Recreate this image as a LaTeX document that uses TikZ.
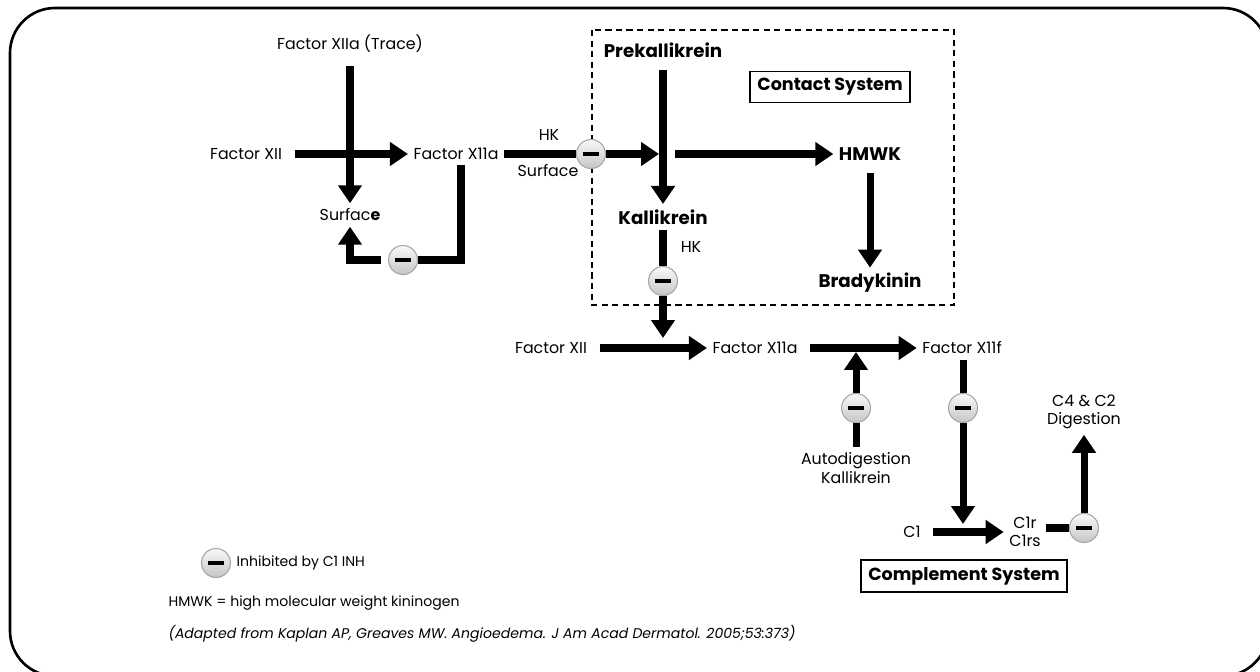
\documentclass[tikz,border=0pt]{standalone}
\usepackage{fontspec}
\setmainfont{Poppins}
\usetikzlibrary{shapes}
\usetikzlibrary{arrows.meta}
\usetikzlibrary{positioning}

\begin{document}
\begin{tikzpicture}[x=0.02cm,y=-0.02cm]
\tikzset{lbl/.style={font=\fontsize{9}{10.5}\selectfont,inner sep=3pt,align=center},
bold/.style={font=\fontsize{10.4}{12}\selectfont\bfseries,inner sep=3pt},
arr/.style={line width=4pt,-{Triangle[length=0.36cm,width=0.46cm]},shorten <=4pt},
bar/.style={line width=4pt},
inh/.style={circle,draw=gray!70,line width=0.6pt,minimum size=0.58cm,inner sep=0pt,top color=gray!5,bottom color=gray!45,
  path picture={\fill ([xshift=-0.16cm,yshift=-0.045cm]path picture bounding box.center) rectangle ++(0.32cm,0.09cm);}},
sysbox/.style={draw,line width=1pt,font=\fontsize{10}{12}\selectfont\bfseries,inner sep=4pt}}
\useasboundingbox (0,0) rectangle (1260,672);
\draw[line width=1.5pt,rounded corners=0.9cm] (10,8) rectangle (1268,676);
% contact system
\draw[dashed,line width=0.8pt,dash pattern=on 3.5pt off 2.5pt] (592,30) rectangle (954,305);
\node[lbl](trace) at (350,44){Factor XIIa (Trace)};
\node[lbl](fxii) at (246,154){Factor XII};
\node[lbl](fxia) at (456,154){Factor X11a};
\node[lbl](surf) at (350,215){Surfac\textbf{e}};
\node[lbl](hk) at (549,135){HK};
\node[lbl](surfhk) at (548,171){Surface};
\node[inh](inha) at (591,154){};
\node[inh](inhb) at (403,260){};
\node[bold](prek) at (663,50){Prekallikrein};
\node[bold](kall) at (663,217){Kallikrein};
\node[bold](hmwk) at (870,154){HMWK};
\node[bold](brady) at (870,283){Bradykinin};
\node[sysbox](contact) at (830,87){Contact System};
\coordinate (meet) at (659,154);
\draw[arr](trace) -- (surf);
\draw[arr](fxii) -- (fxia);
\draw[bar]([xshift=0.1cm]fxia.south) |- (inhb);
\draw[arr](inhb) -| (surf.south);
\draw[bar](fxia) -- (inha);
\draw[arr,shorten <=0pt](inha) -- (meet);
\draw[arr](prek) -- (kall);
\draw[arr,shorten <=0.32cm](meet) -- (hmwk);
\draw[arr](hmwk) -- (brady);
% factor xii activation
\node[lbl](hkb) at (691,247){HK};
\node[inh](inhc) at (663,281){};
\node[lbl](fxiib) at (551,348){Factor XII};
\node[lbl](fxiab) at (755,348){Factor X11a};
\node[lbl](fxif) at (962,348){Factor X11f};
\node[inh](inhd) at (856,408){};
\node[lbl](auto) at (856,468){Autodigestion\\Kallikrein};
\node[inh](inhe) at (963,408){};
\coordinate (drop) at (663,338);
\coordinate (rise) at (856,352);
\coordinate (cut) at (963,524);
\draw[bar](kall) -- (inhc);
\draw[arr,shorten <=0pt](inhc) -- (drop);
\draw[arr](fxiib) -- (fxiab);
\draw[arr](fxiab) -- (fxif);
\draw[bar](auto) -- (inhd);
\draw[arr,shorten <=0pt](inhd) -- (rise);
\draw[bar](fxif.south -| inhe) -- (inhe);
\draw[arr,shorten <=0pt](inhe) -- (cut);
% complement system
\node[lbl](cone) at (912,532){C1};
\node[lbl](conr) at (1025,532){C1r\\C1rs};
\node[inh](inhf) at (1084,528){};
\node[lbl](cfour) at (1084,412){C4 \& C2\\Digestion};
\node[sysbox](complement) at (964,576){Complement System};
\draw[arr](cone) -- (conr);
\draw[bar](conr.east |- inhf) -- (inhf);
\draw[arr,shorten <=0pt](inhf) -- (cfour);
% legend
\node[inh](inhkey) at (216,563){};
\node[lbl,right=0pt of inhkey,font=\fontsize{8}{10}\selectfont](key){Inhibited by C1 INH};
\node[lbl,anchor=west,font=\fontsize{8}{10}\selectfont](abbr) at (163,603){HMWK = high molecular weight kininogen};
\node[lbl,anchor=west,font=\fontsize{8}{10}\selectfont\itshape](cite) at (163,634){(Adapted from Kaplan AP, Greaves MW. Angioedema. J Am Acad Dermatol. 2005;53:373)};
\end{tikzpicture}
\end{document}
